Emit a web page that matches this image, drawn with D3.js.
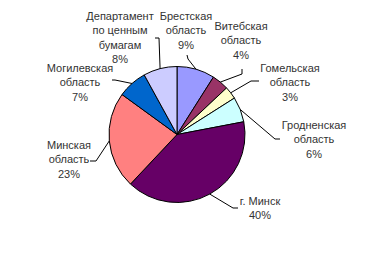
<!DOCTYPE html>
<html>
<head>
<meta charset="utf-8">
<script src="https://d3js.org/d3.v7.min.js"></script>
<style>
  body { margin: 0; background: #fff; }
  text { font-family: "Liberation Sans", Arial, sans-serif; font-size: 11px; fill: #333; }
</style>
</head>
<body>
<svg id="chart" width="376" height="261"></svg>
<script>
// data
const regions = ["Брестская\nобласть", "Витебская\nобласть", "Гомельская\nобласть", "Гродненская\nобласть",
                 "г. Минск", "Минская\nобласть", "Могилевская\nобласть", "Департамент\nпо ценным\nбумагам"];
const shares = [9, 4, 3, 6, 40, 23, 7, 8];
const colors = ["#9999FF", "#993366", "#FFFFCC", "#CCFFFF", "#660066", "#FF8080", "#0066CC", "#CCCCFF"];

const cx = 177, cy = 134.5, r = 68;

// where each label sits (x, y of first line centre) and the elbow of its leader line
const labelPos = [[186, 16], [241, 26], [290, 68], [314, 125], [260, 201], [69, 145], [80, 68], [120, 16]];
const elbows = [
  [[187, 55], [188, 59]],
  [[242, 69], [242, 74]],
  [[259, 81], [251, 81]],
  [[280, 139], [275, 139]],
  [[238, 208], [233, 208]],
  [[90, 161], [96, 161]],
  [[112, 80], [115, 80]],
  [[155, 38], [159, 38]]
];

const svg = d3.select("#chart");
const g = svg.append("g").attr("transform", "translate(" + cx + "," + cy + ")");

const pie = d3.pie().sort(null).value(d => d)(shares);
const arc = d3.arc().innerRadius(0).outerRadius(r);

g.selectAll("path")
  .data(pie)
  .enter()
  .append("path")
  .attr("d", arc)
  .attr("fill", (d, i) => colors[i])
  .attr("stroke", "#000")
  .attr("stroke-width", 1);

// leader lines
pie.forEach(function (d, i) {
  const mid = (d.startAngle + d.endAngle) / 2;
  const edge = [cx + r * Math.sin(mid), cy - r * Math.cos(mid)];
  const pts = elbows[i].concat([edge]);
  svg.append("path")
    .attr("d", d3.line()(pts))
    .attr("fill", "none")
    .attr("stroke", "#000")
    .attr("stroke-width", 1);
});

// labels
regions.forEach(function (name, i) {
  const lines = name.split("\n").concat([shares[i] + "%"]);
  const t = svg.append("text")
    .attr("text-anchor", "middle")
    .attr("x", labelPos[i][0])
    .attr("y", labelPos[i][1]);
  lines.forEach(function (s, k) {
    t.append("tspan")
      .attr("x", labelPos[i][0])
      .attr("y", labelPos[i][1] + k * 14.5)
      .attr("dy", "0.35em")
      .text(s);
  });
});
</script>
</body>
</html>
